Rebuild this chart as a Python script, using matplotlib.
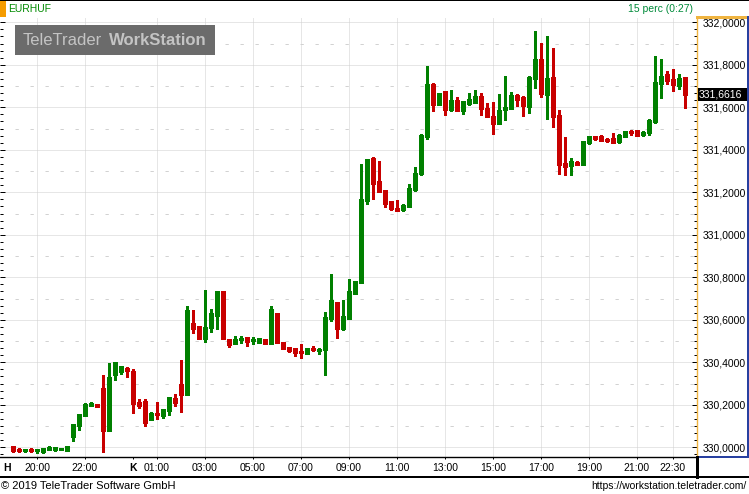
import numpy as np
import matplotlib
matplotlib.use("Agg")
import matplotlib.pyplot as plt
import matplotlib.transforms as mtransforms
from matplotlib.ticker import MultipleLocator, FuncFormatter
from matplotlib.patches import Rectangle
from matplotlib.lines import Line2D

plt.rcParams['font.family'] = ['Liberation Sans', 'DejaVu Sans']

symbol = "EURHUF"
interval_text = "15 perc (0:27)"
last_price = 331.6616

# 15 minute candles, Monday 19:00 -> Tuesday 23:00
opens = [330.003, 329.989, 329.986, 329.989, 329.987, 329.981, 329.994, 329.993, 329.992, 329.988,
         330.054, 330.106, 330.152, 330.200, 330.199, 330.274, 330.083, 330.343, 330.361, 330.368,
         330.354, 330.209, 330.212, 330.135, 330.158, 330.154, 330.176, 330.228, 330.293, 330.250,
         330.581, 330.566, 330.514, 330.566, 330.623, 330.732, 330.505, 330.490, 330.508, 330.514,
         330.504, 330.497, 330.503, 330.490, 330.628, 330.490, 330.468, 330.461, 330.449, 330.443,
         330.463, 330.456, 330.462, 330.609, 330.680, 330.561, 330.610, 330.727, 330.778, 331.164,
         331.357, 331.249, 331.206, 331.154, 331.121, 331.121, 331.135, 331.215, 331.290, 331.465,
         331.705, 331.615, 331.672, 331.592, 331.630, 331.587, 331.620, 331.625, 331.649, 331.592,
         331.554, 331.526, 331.594, 331.597, 331.653, 331.644, 331.607, 331.737, 331.823, 331.662,
         331.737, 331.560, 331.333, 331.328, 331.338, 331.333, 331.437, 331.458, 331.461, 331.447,
         331.451, 331.442, 331.465, 331.484, 331.489, 331.476, 331.484, 331.535, 331.715, 331.753,
         331.729, 331.705, 331.738]
highs = [330.008, 329.999, 329.994, 329.995, 329.994, 329.999, 330.005, 330.002, 329.999, 330.006,
         330.111, 330.157, 330.209, 330.215, 330.206, 330.340, 330.397, 330.402, 330.383, 330.378,
         330.369, 330.225, 330.225, 330.168, 330.212, 330.179, 330.237, 330.251, 330.413, 330.667,
         330.647, 330.571, 330.741, 330.651, 330.737, 330.735, 330.512, 330.524, 330.522, 330.517,
         330.517, 330.514, 330.511, 330.665, 330.628, 330.495, 330.472, 330.468, 330.486, 330.467,
         330.476, 330.467, 330.637, 330.816, 330.680, 330.694, 330.792, 330.783, 331.334, 331.357,
         331.367, 331.348, 331.211, 331.154, 331.164, 331.145, 331.239, 331.320, 331.475, 331.795,
         331.715, 331.668, 331.677, 331.682, 331.649, 331.630, 331.667, 331.682, 331.667, 331.620,
         331.625, 331.663, 331.748, 331.672, 331.663, 331.653, 331.748, 331.960, 331.903, 331.936,
         331.879, 331.588, 331.460, 331.361, 331.347, 331.442, 331.461, 331.467, 331.470, 331.456,
         331.479, 331.475, 331.489, 331.494, 331.494, 331.489, 331.546, 331.842, 331.828, 331.772,
         331.781, 331.758, 331.738]
lows = [329.980, 329.978, 329.978, 329.978, 329.975, 329.975, 329.986, 329.984, 329.986, 329.984,
        330.031, 330.083, 330.149, 330.195, 330.191, 329.980, 330.083, 330.318, 330.343, 330.329,
        330.163, 330.187, 330.098, 330.132, 330.133, 330.139, 330.154, 330.196, 330.168, 330.246,
        330.539, 330.508, 330.495, 330.542, 330.557, 330.514, 330.472, 330.486, 330.492, 330.476,
        330.486, 330.490, 330.486, 330.490, 330.490, 330.462, 330.449, 330.429, 330.420, 330.438,
        330.453, 330.438, 330.341, 330.596, 330.514, 330.552, 330.608, 330.721, 330.773, 331.145,
        331.168, 331.201, 331.130, 331.116, 331.112, 331.112, 331.131, 331.206, 331.281, 331.451,
        331.582, 331.611, 331.563, 331.582, 331.587, 331.568, 331.611, 331.620, 331.563, 331.554,
        331.474, 331.521, 331.540, 331.592, 331.606, 331.559, 331.573, 331.690, 331.648, 331.544,
        331.506, 331.286, 331.281, 331.281, 331.327, 331.333, 331.427, 331.448, 331.442, 331.437,
        331.432, 331.432, 331.460, 331.470, 331.465, 331.465, 331.470, 331.526, 331.644, 331.710,
        331.677, 331.686, 331.597]
closes = [329.986, 329.987, 329.988, 329.987, 329.989, 329.994, 329.996, 329.995, 329.994, 330.002,
          330.105, 330.152, 330.199, 330.203, 330.196, 330.083, 330.326, 330.397, 330.378, 330.365,
          330.210, 330.199, 330.121, 330.157, 330.156, 330.176, 330.232, 330.215, 330.252, 330.642,
          330.562, 330.513, 330.562, 330.628, 330.732, 330.514, 330.486, 330.505, 330.510, 330.500,
          330.506, 330.508, 330.492, 330.647, 330.495, 330.467, 330.457, 330.449, 330.447, 330.462,
          330.461, 330.458, 330.607, 330.689, 330.561, 330.613, 330.731, 330.778, 331.164, 331.353,
          331.244, 331.206, 331.149, 331.126, 331.119, 331.135, 331.215, 331.287, 331.465, 331.705,
          331.615, 331.663, 331.592, 331.630, 331.587, 331.625, 331.634, 331.649, 331.597, 331.559,
          331.526, 331.582, 331.596, 331.653, 331.639, 331.611, 331.738, 331.823, 331.667, 331.733,
          331.558, 331.333, 331.323, 331.342, 331.335, 331.437, 331.461, 331.456, 331.446, 331.445,
          331.437, 331.465, 331.484, 331.482, 331.470, 331.478, 331.536, 331.715, 331.743, 331.729,
          331.710, 331.734, 331.6616]

tick_pos = [4, 12, 20, 24, 32, 40, 48, 56, 64, 72, 80, 88, 96, 104, 110]
tick_labels = ["20:00", "22:00", "K", "01:00", "03:00", "05:00", "07:00", "09:00",
               "11:00", "13:00", "15:00", "17:00", "19:00", "21:00", "22:30"]

W, H = 749, 494
def fx(px):
    return px / W
def fy(py):
    return 1 - py / H

fig = plt.figure(figsize=(W / 100, H / 100), dpi=100)
fig.patch.set_facecolor('white')

ax = fig.add_axes([0, 37 / H, 697 / W, 440 / H])
ax.set_facecolor('white')
ax.set_xlim(-13 / 6, 114)
ax.set_ylim(329.9544, 332.0249)

GREEN = '#008000'
RED = '#c80000'
GRID = '#cfcfcf'

# grid: dotted at major levels, short dashes half way between
dot = (0, (1.0, 1.0))      # in units of linewidth (lw = 1px)
for v in np.arange(330.0, 332.01, 0.2):
    ax.axhline(v, color=GRID, lw=0.72, linestyle=dot, zorder=0.5)
for v in np.arange(330.1, 332.0, 0.2):
    ax.axhline(v, color='#d2d2d2', lw=0.72, linestyle=(0, (3.3, 11.7)), zorder=0.5)
for p, lbl in zip(tick_pos, tick_labels):
    if lbl != "K":
        ax.axvline(p, color=GRID, lw=0.72, linestyle=dot, zorder=0.5)

# candles
o = np.array(opens)
h = np.array(highs)
l = np.array(lows)
c = np.array(closes)
x = np.arange(len(c))
cols = [GREEN if cc >= oo else RED for oo, cc in zip(o, c)]
ax.vlines(x, l, h, colors=cols, lw=0.75, antialiased=False, zorder=2)
ax.bar(x, c - o, bottom=o, width=5 / 6, color=cols, linewidth=0, antialiased=False, zorder=3)
ax.hlines(c, x - 0.41, x + 0.41, colors=cols, lw=0.9, antialiased=False, zorder=3)
ax.hlines(o, x - 0.41, x + 0.41, colors=cols, lw=0.9, antialiased=False, zorder=3)

# axes styling
for s in ['top', 'left']:
    ax.spines[s].set_visible(False)
ax.spines['right'].set_color('#f0b440')
ax.spines['right'].set_linewidth(1)
ax.spines['bottom'].set_color('black')
ax.spines['bottom'].set_linewidth(1)

ax.yaxis.set_major_locator(MultipleLocator(0.2))
ax.yaxis.set_minor_locator(MultipleLocator(0.2 / 6))
ax.yaxis.set_major_formatter(FuncFormatter(lambda v, pos: f"{v:.4f}".replace('.', ',')))
ax.tick_params(axis='y', which='both', direction='in', left=True, right=True,
               labelleft=False, labelright=True, color='black', width=0.72)
ax.tick_params(axis='y', which='major', length=3.6, pad=4, labelsize=7.5)
ax.tick_params(axis='y', which='minor', length=2.2)

ax.set_xticks(tick_pos)
ax.set_xticklabels(tick_labels)
ax.tick_params(axis='x', which='major', direction='out', length=1.5, width=0.72,
               pad=2.5, labelsize=7.5, color='black')
for t in ax.get_xticklabels():
    if t.get_text() == "K":
        t.set_fontweight('bold')

# current price box on right axis
trans = mtransforms.blended_transform_factory(fig.transFigure, ax.transData)
half = 6.7 / 212.5
ax.add_patch(Rectangle((fx(697.5), last_price - half), fx(749) - fx(697.5), 2 * half,
                       transform=trans, facecolor='black', edgecolor='none',
                       clip_on=False, zorder=10))
ax.text(fx(699), last_price, f"{last_price:.4f}".replace('.', ','), transform=trans,
        color='white', fontsize=7.5, ha='left', va='center', clip_on=False, zorder=11)

# frame lines
def fline(xs, ys, color, lw=1.0):
    fig.add_artist(Line2D([fx(v) for v in xs], [fy(v) for v in ys], color=color,
                          lw=lw, antialiased=False))

fline([0, 749], [0.5, 0.5], 'black', 1.4)
fline([697, 749], [17, 17], '#f0b440')
fline([747.5, 747.5], [17, 457], '#2840a0', 1.4)
fline([697, 749], [457, 457], '#2840a0', 1.4)
fline([0, 749], [477, 477], 'black', 1.2)
fline([697, 697], [457, 477], 'black', 1.0)

# header
fig.add_artist(Rectangle((0, fy(17)), fx(5.5), 16 / H, transform=fig.transFigure,
                         facecolor='#f59c00', edgecolor='none'))
fig.text(fx(8), fy(8.5), symbol, color='#008a00', fontsize=7.5, ha='left', va='center')
fig.text(fx(693), fy(8.5), interval_text, color='#008a3a', fontsize=7.5, ha='right', va='center')

# watermark
fig.add_artist(Rectangle((fx(15), fy(55)), 200 / W, 30 / H, transform=fig.transFigure,
                         facecolor='#6b6b6b', edgecolor='none', zorder=5))
fig.text(fx(23), fy(40.5), "TeleTrader", color='#c4c4c4', fontsize=12, ha='left',
         va='center', zorder=6)
fig.text(fx(207), fy(40.5), "WorkStation", color='#c4c4c4', fontsize=12, fontweight='bold',
         ha='right', va='center', zorder=6)

# day marker and footer
fig.text(fx(3), fy(467.5), "H", fontsize=7.5, fontweight='bold', ha='left', va='center')
fig.text(fx(1), fy(485.5), "\u00a9 2019 TeleTrader Software GmbH", fontsize=8,
         ha='left', va='center')
fig.text(fx(747), fy(485.5), "https://workstation.teletrader.com/", fontsize=7.5,
         ha='right', va='center')

fig.savefig("out.png", dpi=100, facecolor='white')
